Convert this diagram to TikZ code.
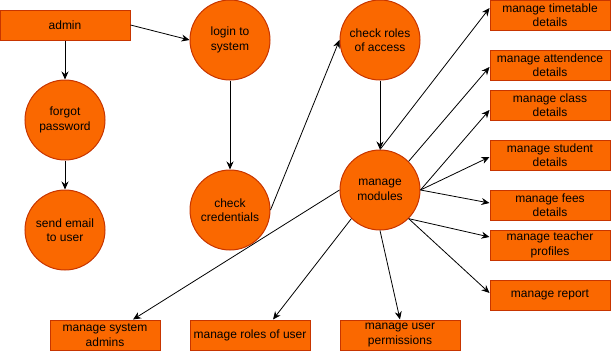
\documentclass[tikz,border=0pt]{standalone}
\usepackage{fontspec}
\setmainfont{Liberation Sans}
\usetikzlibrary{arrows.meta}
\definecolor{boxfill}{HTML}{FA6800}
\definecolor{boxline}{HTML}{C73500}
\tikzset{
  proc/.style={circle,draw=boxline,fill=boxfill,line width=1pt,minimum size=80pt,inner sep=0pt,align=center,font=\fontsize{12}{14.5}\selectfont},
  task/.style={rectangle,draw=boxline,fill=boxfill,line width=1pt,minimum width=120pt,minimum height=30pt,inner sep=0pt,align=center,font=\fontsize{12}{14.5}\selectfont},
  flow/.style={-{Stealth[length=8pt,width=7pt]},line width=0.8pt}
}
\begin{document}
\begin{tikzpicture}[x=1pt,y=-1pt]
\useasboundingbox (0,0) rectangle (611,351);
\node[task,minimum width=130pt] (admin) at (65,25) {admin};
\node[proc] (forgot) at (65,120) {forgot\\password};
\node[proc] (email) at (65,230) {send email\\to user};
\node[proc] (login) at (230,40) {login to\\system};
\node[proc] (cred) at (230,210) {check\\credentials};
\node[proc] (roles) at (380,40) {check roles\\of access};
\node[proc] (mod) at (380,190) {manage\\modules};
\node[task] (tt) at (550,15) {manage timetable\\details};
\node[task] (att) at (550,65) {manage attendence\\details};
\node[task] (cls) at (550,105) {manage class\\details};
\node[task] (stu) at (550,155) {manage student\\details};
\node[task] (fee) at (550,205) {manage fees\\details};
\node[task] (tch) at (550,245) {manage teacher\\profiles};
\node[task] (rep) at (550,295) {manage report};
\node[task,minimum width=110pt] (sysadm) at (105,335) {manage system\\admins};
\node[task] (ruser) at (250,335) {manage roles of user};
\node[task] (perm) at (400,335) {manage user\\permissions};
\draw[flow] (admin) -- (forgot);
\draw[flow] (forgot) -- (email);
\draw[flow] (admin.east) -- (login.west);
\draw[flow] (login) -- (cred);
\draw[flow] (cred.east) -- (roles.west);
\draw[flow] (roles) -- (mod);
\draw[flow] (mod.north) -- ([yshift=7pt]tt.west);
\draw[flow] (mod.north east) -- ([yshift=-2pt]att.west);
\draw[flow] (mod.east) -- ([yshift=-5pt]cls.west);
\draw[flow] (mod.east) -- ([yshift=-2pt]stu.west);
\draw[flow] (mod.east) -- ([yshift=2pt]fee.west);
\draw[flow] (mod.south east) -- ([yshift=8pt]tch.west);
\draw[flow] (mod.south east) -- ([yshift=2pt]rep.west);
\draw[flow] (mod.west) -- ([xshift=28pt]sysadm.north);
\draw[flow] (mod.south west) -- ([xshift=23pt]ruser.north);
\draw[flow] (mod.south) -- (perm.north);
\end{tikzpicture}
\end{document}
